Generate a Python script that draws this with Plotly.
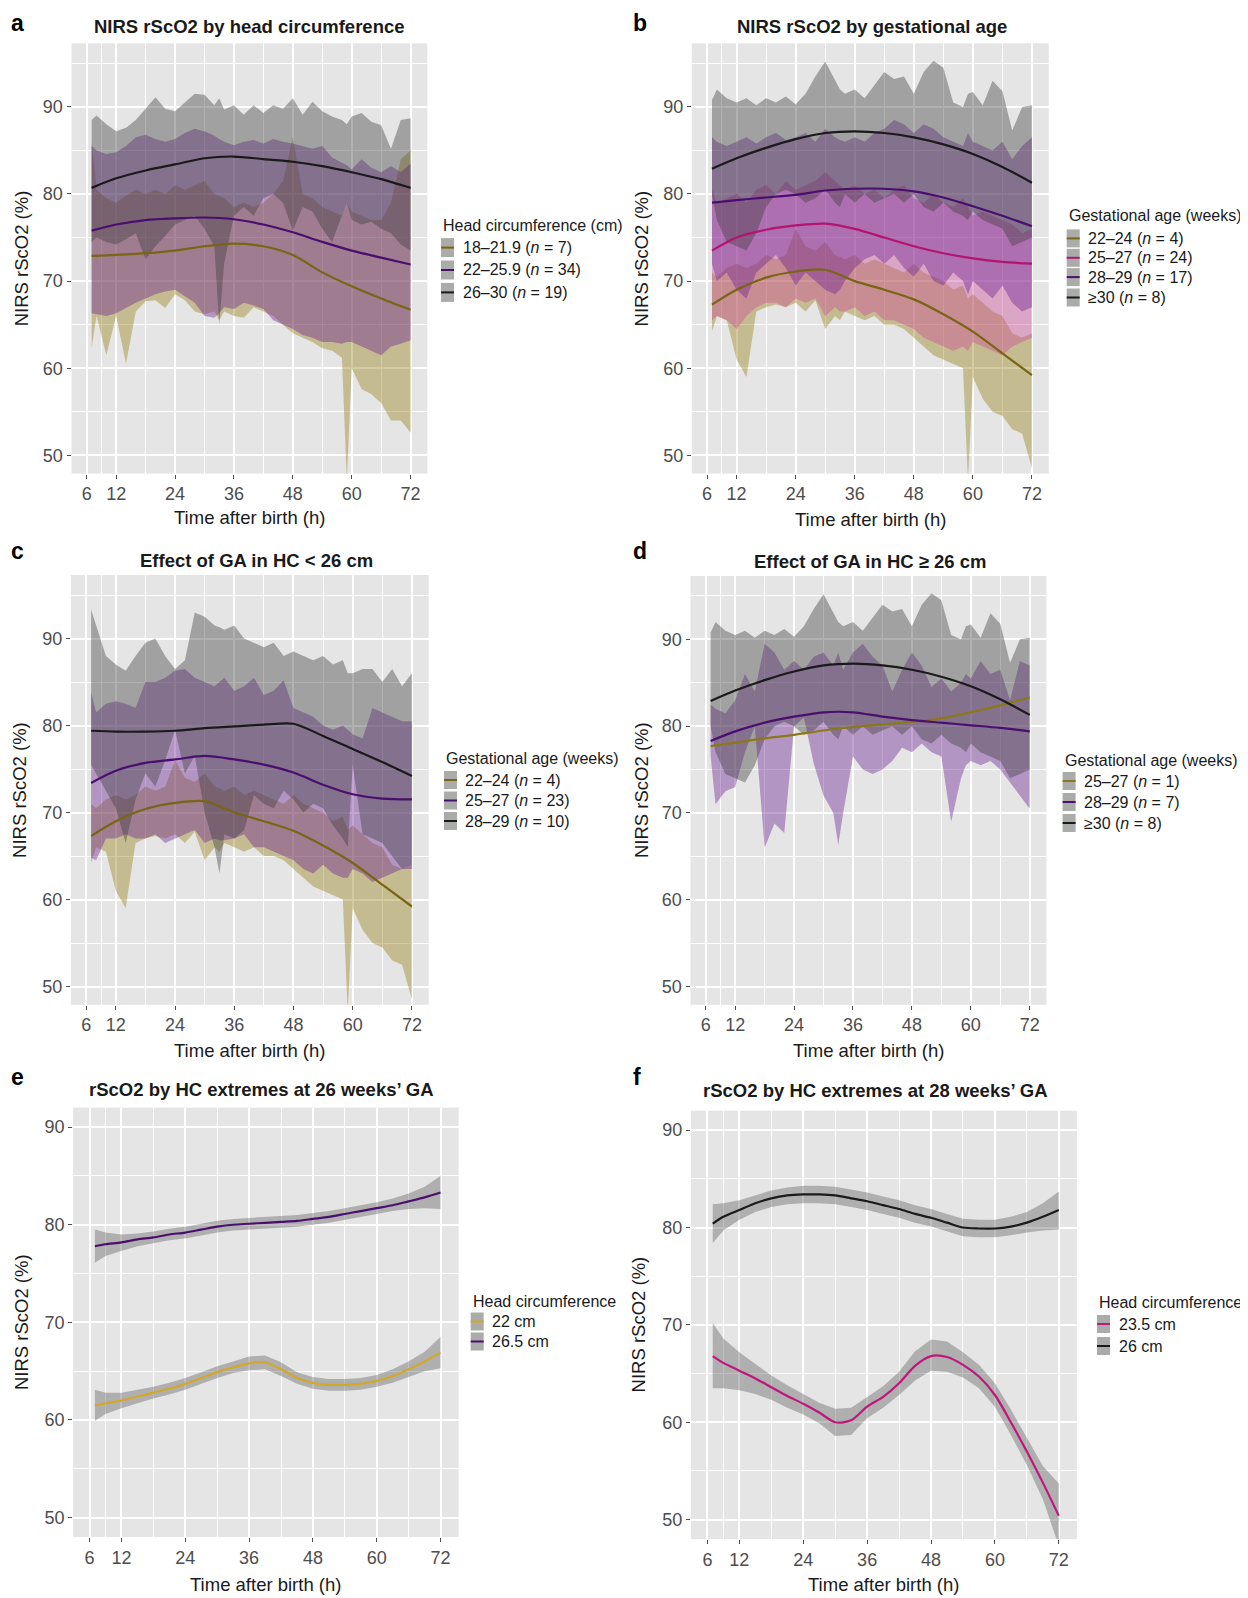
import plotly.graph_objects as go

# ---------------- data ----------------
# hourly-ish grid for the range ribbons (panels a-d)
H = [7, 8, 10, 12, 14, 16, 18, 20, 22, 24, 26, 28, 30, 32, 33, 34, 36, 38, 40, 42,
     44, 46, 48, 50, 52, 54, 56, 58, 59, 60, 62, 64, 66, 68, 70, 72]
# grid for smoothed lines (panels a-d)
L = [7, 12, 18, 24, 30, 36, 42, 48, 54, 60, 66, 72]
# grid for modelled curves (panels e-f)
E = [7, 9, 12, 15, 18, 21, 24, 27, 30, 33, 36, 39, 42, 45, 48, 51, 54, 57, 60, 63, 66, 69, 72]

x_ticks = [6, 12, 24, 36, 48, 60, 72]
y_ticks = [50, 60, 70, 80, 90]

# panel a: by head circumference
hc18_hi = [86.0, 80.5, 79.5, 79.0, 79.8, 80.5, 80.0, 80.5, 80.0, 81.0, 80.5, 81.0, 81.5, 80.0, 79.8, 79.5, 78.5, 79.0,
           78.5, 79.0, 80.0, 81.5, 86.5, 80.0, 79.5, 78.5, 78.0, 77.5, 79.0, 78.0, 77.5, 77.0, 77.0, 79.0, 84.0, 85.0]
hc18_lo = [62.3, 66.0, 61.5, 66.0, 60.5, 66.5, 67.7, 67.8, 66.9, 68.5, 67.8, 66.5, 66.2, 66.5, 65.5, 66.5, 66.0, 65.8,
           67.0, 66.5, 66.0, 65.0, 64.0, 63.5, 63.0, 62.3, 62.0, 61.2, 47.0, 60.0, 57.6, 57.0, 56.0, 54.0, 54.0, 52.6]
hc22_hi = [85.5, 85.0, 84.6, 84.8, 85.5, 86.5, 86.8, 86.3, 86.0, 86.3, 87.0, 87.5, 87.2, 86.7, 86.3, 86.0, 85.6, 86.0,
           86.2, 85.8, 86.3, 86.0, 85.8, 85.5, 85.2, 85.5, 84.2, 83.6, 83.3, 82.8, 84.0, 83.0, 82.5, 83.2, 82.5, 83.5]
hc22_lo = [66.3, 66.2, 66.0, 66.3, 66.9, 67.5, 68.0, 68.5, 68.8, 69.0, 68.3, 67.5, 66.0, 65.8, 66.3, 67.0, 66.8, 67.5,
           67.2, 66.8, 65.5, 65.0, 64.5, 63.8, 63.5, 63.0, 63.0, 62.8, 63.0, 63.0, 62.5, 62.0, 61.5, 62.5, 62.8, 63.2]
hc26_hi = [88.5, 89.0, 88.0, 87.2, 87.6, 88.5, 89.8, 91.1, 89.8, 89.5, 90.5, 91.5, 91.4, 90.2, 91.0, 89.7, 90.2, 89.1,
           90.2, 89.3, 90.2, 89.8, 91.0, 89.1, 90.6, 89.5, 88.9, 88.5, 88.0, 88.9, 89.3, 88.3, 87.9, 85.2, 88.5, 88.7]
hc26_lo = [74.5, 75.0, 74.5, 74.2, 74.8, 75.5, 72.5, 74.0, 75.2, 76.5, 77.0, 77.5, 76.0, 74.0, 65.0, 72.0, 77.5, 78.5,
           77.5, 79.5, 80.0, 79.0, 75.8, 78.5, 78.0, 76.0, 74.5, 77.5, 79.0, 77.0, 76.5, 76.8, 76.0, 75.5, 74.2, 73.5]
hc18_line = [72.9, 73.0, 73.2, 73.5, 74.0, 74.3, 74.0, 73.0, 71.0, 69.4, 68.0, 66.7]
hc22_line = [75.8, 76.5, 77.0, 77.2, 77.3, 77.1, 76.5, 75.6, 74.5, 73.5, 72.7, 71.9]
hc26_line = [80.7, 81.8, 82.7, 83.4, 84.1, 84.3, 84.0, 83.7, 83.2, 82.5, 81.7, 80.7]

# panel b: by gestational age
ga22_hi = [71.0, 70.5, 71.5, 72.0, 71.5, 72.0, 73.0, 72.5, 73.0, 76.0, 74.0, 73.5, 74.5, 73.0, 72.8, 72.5, 73.0, 72.0,
           72.5, 72.0, 71.5, 71.0, 72.0, 71.0, 70.5, 70.0, 69.0, 69.5, 68.0, 68.5, 67.5, 66.5, 66.0, 64.0, 63.5, 64.0]
ga22_lo = [64.2, 66.0, 65.5, 61.0, 59.0, 66.5, 67.0, 67.3, 67.0, 67.5, 66.5, 67.8, 64.5, 66.0, 65.5, 66.5, 66.0, 65.5,
           66.0, 65.0, 65.0, 64.5, 63.5, 62.5, 61.5, 61.0, 60.5, 60.0, 47.0, 59.0, 56.5, 55.0, 54.5, 53.0, 52.5, 48.5]
ga25_hi = [80.5, 79.0, 79.5, 80.0, 79.0, 80.5, 81.0, 80.0, 81.5, 80.5, 81.0, 81.5, 82.5, 81.5, 81.0, 80.5, 81.0, 80.0,
           80.5, 79.5, 80.5, 81.0, 79.5, 79.0, 80.0, 79.0, 78.5, 79.5, 78.5, 77.5, 78.0, 77.5, 77.0, 76.5, 75.5, 76.0]
ga25_lo = [65.5, 66.0, 65.5, 64.5, 66.0, 67.0, 67.5, 67.5, 67.0, 68.0, 67.5, 68.0, 66.0, 67.0, 66.5, 66.5, 67.0, 66.0,
           66.5, 65.5, 65.5, 65.0, 64.5, 63.5, 63.0, 62.5, 62.0, 62.5, 62.0, 63.0, 62.5, 62.0, 61.5, 62.5, 63.0, 63.5]
ga28_hi = [86.5, 86.0, 85.5, 86.0, 86.5, 85.8, 86.5, 87.0, 86.2, 86.5, 87.0, 86.0, 87.5, 86.5, 86.2, 86.0, 86.5, 86.0,
           87.0, 87.5, 88.5, 88.0, 87.0, 88.0, 87.5, 86.5, 86.0, 85.5, 87.0, 86.0, 85.5, 85.0, 86.0, 84.0, 85.5, 86.5]
ga28_lo = [72.0, 70.0, 71.0, 69.0, 68.0, 71.0, 72.0, 73.0, 71.5, 69.5, 71.0, 70.0, 69.0, 68.5, 69.0, 70.0, 71.5, 72.5,
           73.0, 72.0, 73.0, 71.5, 70.5, 72.0, 70.0, 69.5, 71.0, 70.0, 68.5, 70.0, 69.0, 68.0, 69.5, 67.5, 66.5, 67.0]
ga30_hi = [90.8, 92.0, 91.0, 90.5, 91.0, 90.2, 91.0, 90.5, 91.2, 90.3, 91.5, 93.5, 95.2, 93.0, 92.0, 91.5, 92.0, 91.0,
           92.5, 94.0, 93.2, 93.5, 91.5, 94.0, 95.3, 94.5, 90.5, 90.0, 91.5, 91.7, 90.2, 93.0, 91.8, 87.3, 90.0, 90.2]
ga30_lo = [80.0, 77.0, 74.5, 74.0, 73.5, 75.5, 78.5, 80.0, 80.5, 80.0, 79.0, 79.5, 80.5, 79.0, 78.5, 80.0, 79.0, 80.0,
           79.0, 79.5, 80.0, 79.0, 80.0, 78.5, 78.0, 79.0, 78.0, 77.5, 77.0, 78.0, 77.0, 76.5, 76.0, 74.0, 74.5, 75.0]
ga22_line = [67.3, 69.0, 70.4, 71.1, 71.3, 70.0, 69.0, 67.9, 66.2, 64.2, 61.7, 59.2]
ga25_line = [73.5, 75.0, 75.9, 76.4, 76.6, 76.0, 75.0, 74.0, 73.2, 72.6, 72.2, 72.0]
ga28_line = [79.0, 79.3, 79.6, 79.9, 80.4, 80.6, 80.6, 80.3, 79.6, 78.6, 77.5, 76.3]
ga30_line = [82.9, 84.1, 85.3, 86.3, 87.0, 87.2, 87.0, 86.5, 85.7, 84.6, 83.1, 81.3]

# panel c: GA effect, HC < 26 cm
c25_hi = [83.8, 81.5, 82.5, 82.8, 82.5, 82.0, 85.0, 85.0, 85.5, 86.3, 86.5, 85.5, 85.0, 84.5, 85.0, 85.5, 84.0, 84.5,
          85.5, 83.5, 84.0, 85.2, 82.0, 81.5, 81.0, 80.0, 79.5, 80.0, 79.5, 79.0, 78.5, 82.0, 81.5, 81.0, 80.5, 80.5]
c25_lo = [64.8, 64.5, 67.0, 67.0, 67.5, 67.0, 67.0, 67.5, 66.5, 67.0, 67.5, 68.0, 66.5, 67.0, 66.8, 66.8, 67.0, 67.5,
          66.0, 66.0, 65.5, 65.0, 64.5, 63.5, 63.0, 64.0, 63.0, 62.5, 62.5, 63.5, 63.0, 62.0, 62.5, 63.0, 63.5, 63.5]
c28_hi = [93.3, 91.5, 88.0, 87.0, 86.3, 88.0, 89.5, 90.0, 88.0, 86.5, 87.5, 93.0, 92.5, 91.5, 91.3, 91.0, 91.5, 90.0,
          89.5, 89.0, 89.5, 88.0, 88.5, 88.0, 87.5, 88.0, 87.0, 87.5, 86.0, 86.0, 86.5, 86.5, 85.0, 86.5, 84.5, 86.0]
c28_lo = [75.5, 74.5, 72.5, 70.5, 66.5, 71.5, 74.5, 73.0, 76.0, 79.5, 74.5, 76.5, 70.0, 66.0, 63.0, 67.5, 67.0, 68.0,
          72.0, 71.0, 70.5, 72.5, 71.5, 70.0, 71.0, 70.5, 68.5, 67.0, 66.0, 75.5, 67.5, 67.0, 66.5, 65.0, 63.5, 64.0]
c25_line = [73.4, 74.8, 75.7, 76.1, 76.5, 76.1, 75.5, 74.6, 73.2, 72.1, 71.6, 71.5]
c28_line = [79.4, 79.3, 79.3, 79.4, 79.7, 79.9, 80.1, 80.2, 78.8, 77.3, 75.8, 74.2]

# panel d: GA effect, HC >= 26 cm
d28_hi = [82.5, 82.0, 81.5, 83.0, 86.0, 84.0, 89.5, 88.5, 86.5, 87.5, 86.5, 88.0, 88.5, 87.0, 88.5, 86.5, 88.5, 89.5,
          88.0, 87.0, 84.0, 86.5, 88.5, 87.0, 84.5, 85.5, 84.0, 85.0, 86.0, 85.5, 87.5, 86.0, 86.5, 83.0, 87.5, 87.0]
d28_lo = [76.5, 71.0, 72.5, 73.0, 77.0, 80.0, 66.0, 68.8, 67.7, 80.0, 81.0, 75.7, 72.0, 70.0, 66.3, 70.0, 76.5, 75.0,
          74.5, 75.0, 76.0, 77.5, 77.0, 78.0, 77.0, 76.5, 69.0, 74.0, 75.5, 76.0, 75.5, 76.0, 75.0, 73.5, 72.0, 70.5]
d25_line = [77.7, 78.1, 78.6, 79.0, 79.5, 79.9, 80.2, 80.5, 80.9, 81.6, 82.4, 83.3]
d28_line = [78.3, 79.4, 80.4, 81.1, 81.6, 81.6, 81.1, 80.7, 80.4, 80.1, 79.8, 79.4]

# panel e: HC extremes at 26 weeks' GA
e22_line = [61.5, 61.7, 62.0, 62.4, 62.8, 63.2, 63.7, 64.3, 64.9, 65.4, 65.8, 65.9, 65.2, 64.3, 63.8, 63.6, 63.6, 63.7,
            64.0, 64.5, 65.2, 66.0, 66.9]
e22_hi = [63.1, 62.8, 62.8, 63.1, 63.4, 63.8, 64.3, 64.9, 65.5, 66.0, 66.5, 66.6, 65.9, 64.9, 64.4, 64.2, 64.2, 64.3,
          64.6, 65.2, 66.0, 67.0, 68.5]
e22_lo = [59.9, 60.6, 61.2, 61.7, 62.2, 62.6, 63.1, 63.7, 64.3, 64.8, 65.1, 65.2, 64.5, 63.7, 63.2, 63.0, 63.0, 63.1,
          63.4, 63.8, 64.4, 65.0, 65.3]
e265_line = [77.8, 78.0, 78.2, 78.5, 78.7, 79.0, 79.2, 79.5, 79.8, 80.0, 80.1, 80.2, 80.3, 80.4, 80.6, 80.8, 81.1,
             81.4, 81.7, 82.0, 82.4, 82.8, 83.3]
e265_hi = [79.5, 79.2, 79.0, 79.1, 79.3, 79.6, 79.8, 80.1, 80.4, 80.6, 80.7, 80.8, 80.9, 81.0, 81.2, 81.4, 81.7, 82.0,
           82.3, 82.7, 83.2, 83.9, 85.0]
e265_lo = [76.1, 76.8, 77.3, 77.8, 78.1, 78.4, 78.6, 78.9, 79.2, 79.4, 79.5, 79.6, 79.7, 79.8, 80.0, 80.2, 80.5, 80.8,
           81.1, 81.4, 81.6, 81.7, 81.6]

# panel f: HC extremes at 28 weeks' GA
f235_line = [66.8, 66.1, 65.3, 64.5, 63.6, 62.7, 61.9, 61.0, 60.0, 60.2, 61.6, 62.6, 64.0, 65.8, 66.8, 66.7, 65.9,
             64.7, 62.8, 60.0, 57.0, 53.8, 50.4]
f235_hi = [70.2, 68.6, 67.2, 66.0, 64.8, 63.8, 62.9, 62.0, 61.4, 61.5, 62.6, 63.7, 65.2, 67.3, 68.5, 68.3, 67.2, 65.9,
           64.0, 61.3, 58.4, 55.5, 53.7]
f235_lo = [63.5, 63.5, 63.3, 62.9, 62.3, 61.5, 60.8, 59.9, 58.6, 58.7, 60.4, 61.5, 62.8, 64.3, 65.3, 65.2, 64.6, 63.5,
           61.6, 58.7, 55.6, 52.1, 47.3]
f26_line = [80.4, 81.1, 81.8, 82.5, 83.0, 83.3, 83.4, 83.4, 83.3, 83.0, 82.7, 82.3, 81.9, 81.4, 81.0, 80.5, 80.0,
            79.9, 79.9, 80.1, 80.5, 81.1, 81.8]
f26_hi = [82.4, 82.5, 82.8, 83.3, 83.8, 84.1, 84.3, 84.3, 84.2, 83.9, 83.6, 83.2, 82.8, 82.3, 81.9, 81.4, 80.9, 80.8,
          80.8, 81.1, 81.6, 82.5, 83.7]
f26_lo = [78.4, 79.7, 80.8, 81.6, 82.1, 82.4, 82.5, 82.5, 82.4, 82.1, 81.8, 81.4, 81.0, 80.5, 80.1, 79.6, 79.1, 79.0,
          79.0, 79.2, 79.5, 79.7, 79.8]

# text
panel_letters = ["a", "b", "c", "d", "e", "f"]
panel_titles = ["NIRS rScO2 by head circumference", "NIRS rScO2 by gestational age",
                "Effect of GA in HC < 26 cm", "Effect of GA in HC ≥ 26 cm",
                "rScO2 by HC extremes at 26 weeks’ GA", "rScO2 by HC extremes at 28 weeks’ GA"]
x_title = "Time after birth (h)"
y_title = "NIRS rScO2 (%)"
leg_titles = ["Head circumference (cm)", "Gestational age (weeks)", "Gestational age (weeks)",
              "Gestational age (weeks)", "Head circumference", "Head circumference"]
leg_a = ["18–21.9 (<i>n</i> = 7)", "22–25.9 (<i>n</i> = 34)", "26–30 (<i>n</i> = 19)"]
leg_b = ["22–24 (<i>n</i> = 4)", "25–27 (<i>n</i> = 24)", "28–29 (<i>n</i> = 17)", "≥30 (<i>n</i> = 8)"]
leg_c = ["22–24 (<i>n</i> = 4)", "25–27 (<i>n</i> = 23)", "28–29 (<i>n</i> = 10)"]
leg_d = ["25–27 (<i>n</i> = 1)", "28–29 (<i>n</i> = 7)", "≥30 (<i>n</i> = 8)"]
leg_e = ["22 cm", "26.5 cm"]
leg_f = ["23.5 cm", "26 cm"]

for arr in [hc18_hi, hc18_lo, hc22_hi, hc22_lo, hc26_hi, hc26_lo, ga22_hi, ga22_lo, ga25_hi, ga25_lo,
            ga28_hi, ga28_lo, ga30_hi, ga30_lo, c25_hi, c25_lo, c28_hi, c28_lo, d28_hi, d28_lo]:
    assert len(arr) == len(H)

# ---------------- styling ----------------
# the page body has an 8px default margin, so the figure is 8px smaller and
# every page-pixel position is shifted by that offset
OFF = 8
W, HT = 1248 - OFF, 1598 - OFF
FONT = "Liberation Sans, Arial, Helvetica, sans-serif"
OLIVE = "#7a6514"
PURPLE = "#4a0f6e"
MAGENTA = "#b3146f"
BLACK = "#1a1a1a"
GOLD = "#d2a82c"
MAG2 = "#c0177c"
D_OLIVE = "#8c7818"
F_OLIVE = "rgba(150,125,20,0.40)"
F_PURPLE = "rgba(105,30,145,0.40)"
F_GRAY = "rgba(60,60,60,0.40)"
F_MAGENTA = "rgba(205,70,150,0.40)"
F_CI = "rgba(95,95,95,0.40)"
KEY_FILL = "#a9aca9"


def px(x):
    return (x - OFF) / W


def py(y):
    return 1 - (y - OFF) / HT


# panel boxes in page pixels: (left, right, top, bottom)
boxes = [(71.5, 427.3, 43.3, 473.6), (691.8, 1048.7, 43.3, 473.6),
         (70.9, 428.7, 575.0, 1004.8), (690.5, 1046.4, 576.0, 1004.8),
         (73.1, 458.6, 1107.6, 1537.1), (690.9, 1076.9, 1110.7, 1539.1)]

fig = go.Figure()


def ax_names(i):
    return ("x" if i == 0 else f"x{i+1}"), ("y" if i == 0 else f"y{i+1}")


def ribbon(i, xs, hi, lo, fill):
    xa, ya = ax_names(i)
    fig.add_trace(go.Scatter(x=list(xs) + list(xs)[::-1], y=list(hi) + list(lo)[::-1],
                             fill="toself", fillcolor=fill, mode="lines", line=dict(width=0),
                             hoverinfo="skip", showlegend=False, xaxis=xa, yaxis=ya))


def curve(i, xs, ys, color, width=2.2):
    xa, ya = ax_names(i)
    fig.add_trace(go.Scatter(x=xs, y=ys, mode="lines",
                             line=dict(color=color, width=width, shape="spline", smoothing=0.8),
                             showlegend=False, xaxis=xa, yaxis=ya))


# panel a
ribbon(0, H, hc18_hi, hc18_lo, F_OLIVE)
ribbon(0, H, hc22_hi, hc22_lo, F_PURPLE)
ribbon(0, H, hc26_hi, hc26_lo, F_GRAY)
curve(0, L, hc18_line, OLIVE)
curve(0, L, hc22_line, PURPLE)
curve(0, L, hc26_line, BLACK)
# panel b
ribbon(1, H, ga22_hi, ga22_lo, F_OLIVE)
ribbon(1, H, ga25_hi, ga25_lo, F_MAGENTA)
ribbon(1, H, ga28_hi, ga28_lo, F_PURPLE)
ribbon(1, H, ga30_hi, ga30_lo, F_GRAY)
curve(1, L, ga22_line, OLIVE)
curve(1, L, ga25_line, MAGENTA)
curve(1, L, ga28_line, PURPLE)
curve(1, L, ga30_line, BLACK)
# panel c
ribbon(2, H, ga22_hi, ga22_lo, F_OLIVE)
ribbon(2, H, c25_hi, c25_lo, F_PURPLE)
ribbon(2, H, c28_hi, c28_lo, F_GRAY)
curve(2, L, ga22_line, OLIVE)
curve(2, L, c25_line, PURPLE)
curve(2, L, c28_line, BLACK)
# panel d
ribbon(3, H, d28_hi, d28_lo, F_PURPLE)
ribbon(3, H, ga30_hi, ga30_lo, F_GRAY)
curve(3, L, d25_line, D_OLIVE)
curve(3, L, d28_line, PURPLE)
curve(3, L, ga30_line, BLACK)
# panel e
ribbon(4, E, e22_hi, e22_lo, F_CI)
ribbon(4, E, e265_hi, e265_lo, F_CI)
curve(4, E, e22_line, GOLD)
curve(4, E, e265_line, PURPLE)
# panel f
ribbon(5, E, f235_hi, f235_lo, F_CI)
ribbon(5, E, f26_hi, f26_lo, F_CI)
curve(5, E, f235_line, MAG2)
curve(5, E, f26_line, BLACK)

layout = dict(width=W, height=HT, margin=dict(l=0, r=0, t=0, b=0), paper_bgcolor="white",
              plot_bgcolor="#e5e5e5", showlegend=False, font=dict(family=FONT, color="#1a1a1a"))

for i, (l, r, t, b) in enumerate(boxes):
    xk = "xaxis" if i == 0 else f"xaxis{i+1}"
    yk = "yaxis" if i == 0 else f"yaxis{i+1}"
    xa, ya = ax_names(i)
    yr = [47.9, 97.3] if i < 4 else [48.0, 92.0]
    ymin = [55, 65, 75, 85, 95] if i < 4 else [55, 65, 75, 85]
    common = dict(ticks="outside", ticklen=4, tickwidth=1, tickcolor="#4d4d4d",
                  tickfont=dict(size=18, color="#4d4d4d", family=FONT),
                  showgrid=True, gridcolor="white", gridwidth=1.6, zeroline=False, showline=False,
                  fixedrange=True)
    layout[xk] = dict(domain=[px(l), px(r)], range=[2.9, 75.4], tickvals=x_ticks, anchor=ya,
                      minor=dict(tickvals=[9, 18, 30, 42, 54, 66], showgrid=True, gridcolor="white",
                                 gridwidth=0.8, ticks=""), **common)
    layout[yk] = dict(domain=[py(b), py(t)], range=yr, tickvals=y_ticks, anchor=xa,
                      minor=dict(tickvals=ymin, showgrid=True, gridcolor="white", gridwidth=0.8, ticks=""),
                      **common)

annotations = []
shapes = []


def text(x, y, s, size, bold=False, xanchor="center", angle=0, color="#1a1a1a"):
    annotations.append(dict(x=px(x), y=py(y), xref="paper", yref="paper", text=(f"<b>{s}</b>" if bold else s),
                            showarrow=False, xanchor=xanchor, yanchor="middle", textangle=angle,
                            font=dict(size=size, color=color, family=FONT)))


letter_pos = [(17, 23), (640, 23), (17, 551), (640, 551), (17, 1077), (637, 1077)]
title_pos = [(249.4, 26.5), (872, 26.5), (256, 560.5), (870, 561), (261, 1089.5), (875, 1090)]
ytitle_x = [21.9, 641, 20, 641.6, 21.7, 638.5]
xtitle_y = [517, 519, 1050, 1050, 1584, 1584]

for i, (l, r, t, b) in enumerate(boxes):
    text(letter_pos[i][0], letter_pos[i][1], panel_letters[i], 23, bold=True, color="black")
    text(title_pos[i][0], title_pos[i][1], panel_titles[i], 18.5, bold=True)
    text((l + r) / 2, xtitle_y[i], x_title, 18.5)
    text(ytitle_x[i], (t + b) / 2, y_title, 18.5, angle=-90)


def legend(x0, ty, rows, title, labels, colors, kw=13, kh=18):
    text(x0, ty, title, 16, xanchor="left")
    for ry, lab, col in zip(rows, labels, colors):
        shapes.append(dict(type="rect", xref="paper", yref="paper", x0=px(x0), x1=px(x0 + kw),
                           y0=py(ry + kh / 2), y1=py(ry - kh / 2), fillcolor=KEY_FILL, line=dict(width=0)))
        shapes.append(dict(type="line", xref="paper", yref="paper", x0=px(x0), x1=px(x0 + kw),
                           y0=py(ry), y1=py(ry), line=dict(color=col, width=2)))
        text(x0 + 19.5, ry, lab, 16, xanchor="left")


legend(441, 226, [247.6, 270, 292.4], leg_titles[0], leg_a, [OLIVE, PURPLE, BLACK], kh=19)
legend(1066.7, 216, [238.4, 257.8, 277.1, 297.5], leg_titles[1], leg_b, [OLIVE, MAGENTA, PURPLE, BLACK])
legend(444, 758.5, [780, 800.5, 821], leg_titles[2], leg_c, [OLIVE, PURPLE, BLACK])
legend(1062.6, 760, [781, 802, 823], leg_titles[3], leg_d, [D_OLIVE, PURPLE, BLACK])
legend(470.7, 1301.5, [1321.5, 1341.5], leg_titles[4], leg_e, [GOLD, PURPLE])
legend(1097, 1302, [1324, 1346], leg_titles[5], leg_f, [MAG2, BLACK])

layout["annotations"] = annotations
layout["shapes"] = shapes
fig.update_layout(**layout)
fig.write_html("out.html", config={"displayModeBar": False})
